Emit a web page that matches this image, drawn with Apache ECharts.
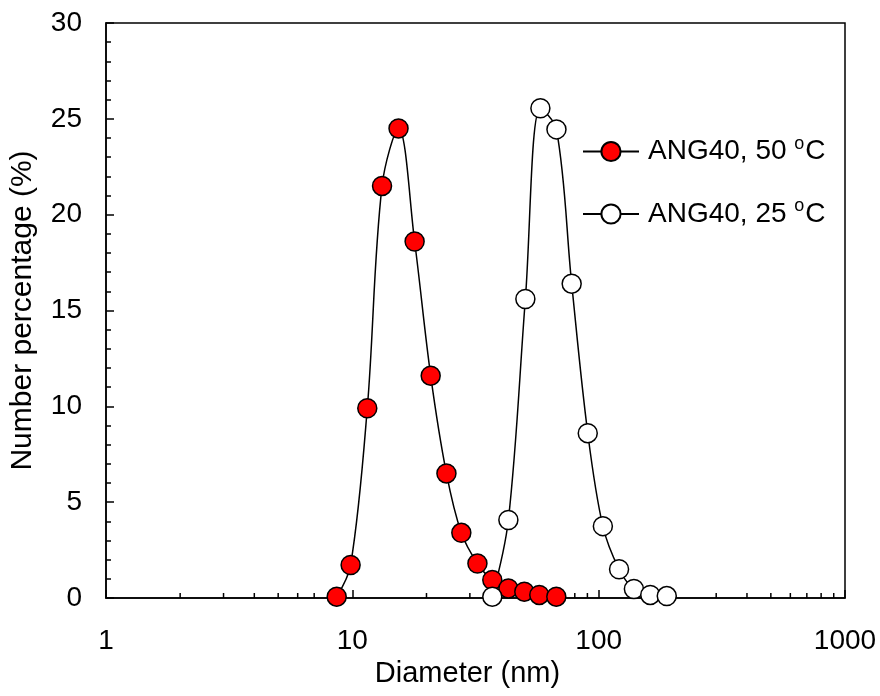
<!DOCTYPE html>
<html>
<head>
<meta charset="utf-8">
<title>Number percentage vs diameter</title>
<script src="https://cdn.jsdelivr.net/npm/echarts@6/dist/echarts.min.js"></script>
<style>
  html, body { margin: 0; padding: 0; background: #fff; }
  #chart { width: 880px; height: 696px; }
</style>
</head>
<body>
<div id="chart"></div>
<script>
// 数据
const seriesNames = ['ANG40, 50 °C', 'ANG40, 25 °C']
const diameter50 = [8.64, 9.84, 11.5, 13.2, 15.4, 17.9, 20.8, 24.1, 27.7, 32.2, 37.0, 43.0, 49.9, 57.4, 67.3]
const percent50 = [0.07, 1.72, 9.9, 21.5, 24.5, 18.6, 11.6, 6.5, 3.4, 1.8, 0.94, 0.5, 0.33, 0.16, 0.07]
const diameter25 = [37.0, 43.0, 50.4, 58.0, 67.4, 77.7, 90.3, 104, 121, 139, 162, 189]
const percent25 = [0.07, 4.07, 15.6, 25.55, 24.45, 16.4, 8.6, 3.75, 1.5, 0.47, 0.16, 0.1]
const xMinorTicks = [2, 3, 4, 5, 6, 7, 8, 9, 20, 30, 40, 50, 60, 70, 80, 90, 200, 300, 400, 500, 600, 700, 800, 900]

const font = 'Liberation Sans, Arial, sans-serif'

function toPairs(xs, ys) {
  return xs.map((x, i) => [x, ys[i]])
}

let myChart = echarts.init(document.getElementById('chart'))

const lineSeries = (name, xs, ys, fill) => ({
  name: name,
  type: 'line',
  smooth: 0.35,
  symbol: 'circle',
  symbolSize: 19,
  data: toPairs(xs, ys),
  lineStyle: { color: '#000', width: 1.5 },
  itemStyle: { color: fill, borderColor: '#000', borderWidth: 1.5 },
  emphasis: { disabled: true },
  z: 3
})

var option = {
  animation: false,
  grid: {
    left: 105, top: 23, right: 35, bottom: 98,
    show: true,
    borderColor: '#000',
    borderWidth: 1.5
  },
  legend: {
    orient: 'vertical',
    left: 582,
    top: 135,
    padding: 0,
    itemWidth: 56,
    itemHeight: 24,
    itemGap: 32,
    data: seriesNames,
    formatter: name => name.replace(' °C', ' {sup|o}C'),
    textStyle: {
      fontFamily: font,
      fontSize: 28,
      color: '#000',
      padding: [0, 0, 0, 4],
      rich: {
        sup: { fontFamily: font, fontSize: 18, color: '#000', padding: [0, 1, 15, 0] }
      }
    }
  },
  xAxis: {
    type: 'log',
    logBase: 10,
    min: 1,
    max: 1000,
    name: 'Diameter (nm)',
    nameLocation: 'middle',
    nameGap: 61,
    nameTextStyle: { fontFamily: font, fontSize: 29, color: '#000', padding: [0, 16, 0, 0] },
    axisLine: { lineStyle: { color: '#000', width: 1.5 } },
    axisTick: { inside: true, length: 8, lineStyle: { color: '#000', width: 1.5 } },
    axisLabel: { fontFamily: font, fontSize: 28, color: '#000', margin: 29, formatter: v => String(v) },
    splitLine: { show: false }
  },
  yAxis: {
    type: 'value',
    min: 0,
    max: 30,
    interval: 5,
    name: 'Number percentage (%)',
    nameLocation: 'middle',
    nameGap: 68,
    nameTextStyle: { fontFamily: font, fontSize: 30, color: '#000' },
    axisLine: { show: true, lineStyle: { color: '#000', width: 1.5 } },
    axisTick: { inside: true, length: 8, lineStyle: { color: '#000', width: 1.5 } },
    minorTick: { show: true, splitNumber: 5, length: 5, lineStyle: { color: '#000', width: 1.5 } },
    axisLabel: { fontFamily: font, fontSize: 28, color: '#000', margin: 24 },
    splitLine: { show: false }
  },
  series: [
    // 对数轴的次刻度 (2..9 in each decade)
    {
      type: 'custom',
      silent: true,
      data: xMinorTicks.map(v => [v, 0]),
      renderItem: (params, api) => {
        const p = api.coord([api.value(0), 0])
        return {
          type: 'line',
          shape: { x1: p[0], y1: p[1], x2: p[0], y2: p[1] - 5 },
          style: { stroke: '#000', lineWidth: 1.5 }
        }
      },
      z: 1
    },
    lineSeries(seriesNames[0], diameter50, percent50, '#ff0000'),
    lineSeries(seriesNames[1], diameter25, percent25, '#ffffff')
  ]
}

myChart.setOption(option)
</script>
</body>
</html>
